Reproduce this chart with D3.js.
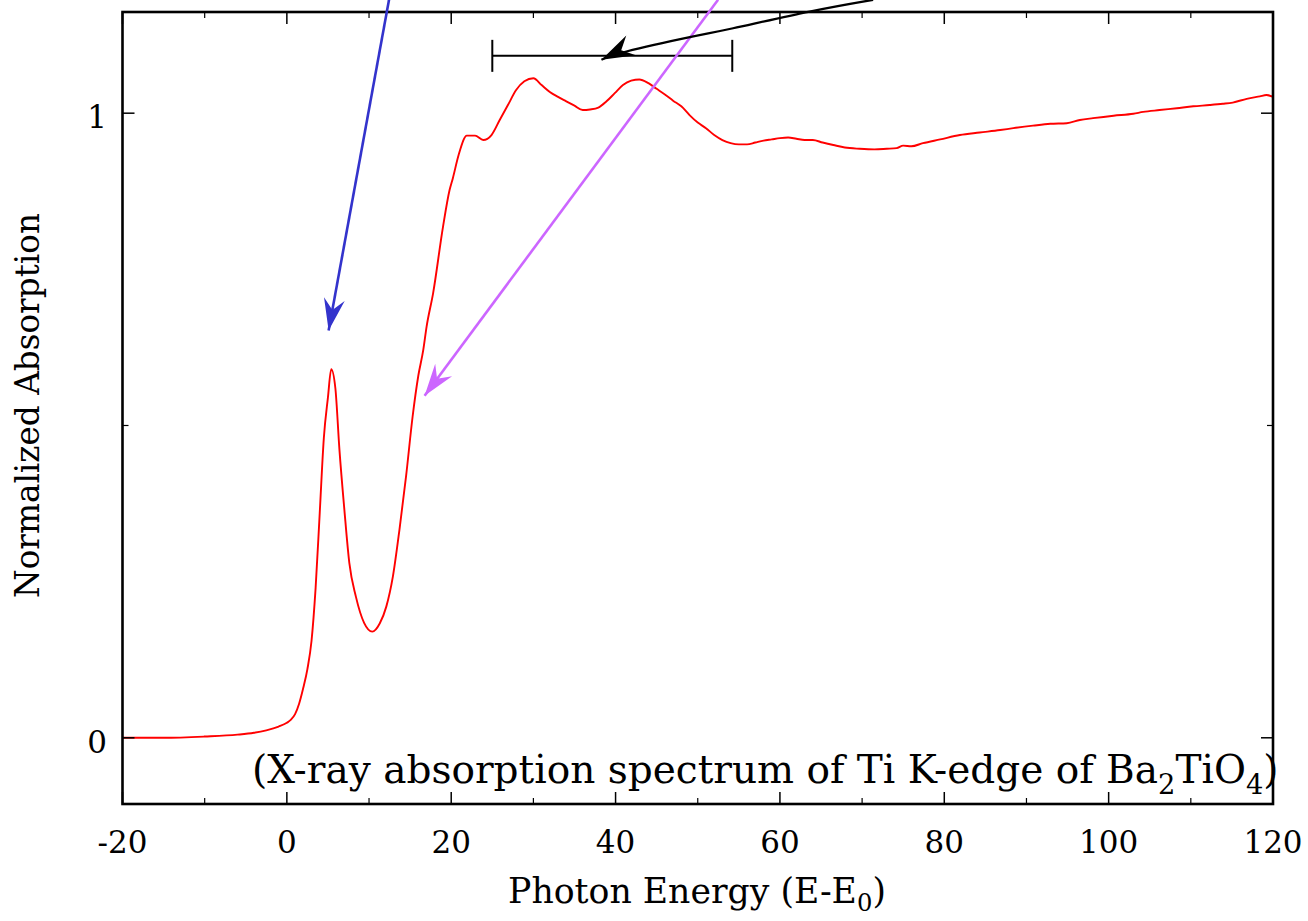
<!DOCTYPE html>
<html>
<head>
<meta charset="utf-8">
<script src="https://cdn.jsdelivr.net/npm/d3@7"></script>
<style>
html,body{margin:0;padding:0;background:#fff;}
svg{display:block;}
text{font-family:"DejaVu Serif",serif;fill:#000;}
</style>
</head>
<body>
<svg id="chart" width="1308" height="921"></svg>
<script>
// ---- data ----
const energy = [-20,-15,-10,-6,-4,-2.5,-1,0,0.5,1,1.5,2,2.5,3,3.5,4,4.5,5,5.4,5.9,6.4,7,7.6,8.4,9.4,10.4,11.3,12.1,12.9,13.7,14.5,15.3,16,16.6,17,17.8,19,19.8,20.2,20.9,21.9,22.9,23.9,24.9,25.9,26.9,27.9,28.9,30,31,32,33,34,35,36,36.9,37.9,38.9,39.9,40.9,41.9,42.9,44,45,46,47,48,49,50,51,52,53,54,55,56,57,58,59,60,61,62,63,64,65.2,66.5,67.9,69.7,71.5,73,74.2,75,76,77.4,79.5,81.9,84.3,86.8,88.4,90.8,92.9,94.9,96.5,98.1,100.6,103,104.2,106.2,108.3,110.3,112.3,113.9,115.1,116.8,118.4,119.2,120];
const absorption = [0.000,0.000,0.002,0.005,0.008,0.012,0.018,0.024,0.029,0.038,0.055,0.080,0.110,0.155,0.240,0.360,0.480,0.545,0.590,0.560,0.461,0.365,0.280,0.226,0.184,0.170,0.183,0.210,0.258,0.333,0.418,0.514,0.580,0.621,0.658,0.712,0.818,0.877,0.896,0.933,0.964,0.964,0.957,0.965,0.989,1.013,1.037,1.051,1.056,1.045,1.034,1.026,1.019,1.012,1.005,1.006,1.009,1.019,1.032,1.045,1.052,1.054,1.048,1.039,1.030,1.020,1.011,0.997,0.985,0.976,0.965,0.957,0.952,0.950,0.950,0.953,0.956,0.958,0.960,0.961,0.959,0.957,0.957,0.953,0.949,0.945,0.943,0.942,0.943,0.944,0.948,0.947,0.952,0.958,0.965,0.969,0.973,0.976,0.980,0.983,0.984,0.989,0.992,0.996,0.999,1.002,1.005,1.008,1.011,1.013,1.015,1.017,1.023,1.027,1.029,1.026];

const xMajorTicks = [-20,0,20,40,60,80,100,120];
const xMinorTicks = [-10,10,30,50,70,90,110];
const yMajorTicks = [0,1];
const yMinorTicks = [0.5];
const xLabels = ["-20","0","20","40","60","80","100","120"];
const yLabels = ["0","1"];

// annotation arrows (data coordinates)
const blueArrow = [[12.43,1.1815],[5.08,0.652]];
const purpleArrow = [[52.47,1.1815],[16.76,0.5477]];
const blackArrow = [[71.34,1.1815],[63.61,1.1627],[54.3,1.136],[49.03,1.1217],[41.32,1.0987],[38.28,1.0854]];
const rangeBar = {x0:25.0, x1:54.2, y:1.0918};

// ---- layout ----
const svg = d3.select("#chart");
const pLeft = 122.5, pRight = 1273, pTop = 12, pBottom = 804;
const x = d3.scaleLinear().domain([-20,120]).range([pLeft,pRight]);
const y = d3.scaleLinear().domain([-0.106,1.162]).range([pBottom,pTop]);

// markers
const defs = svg.append("defs");
function marker(id, color, len, half, notch){
  defs.append("marker").attr("id",id)
    .attr("markerUnits","userSpaceOnUse")
    .attr("viewBox","-36 -14 38 28")
    .attr("markerWidth",38).attr("markerHeight",28)
    .attr("refX",0).attr("refY",0)
    .attr("orient","auto")
    .append("path")
    .attr("d",`M0,0 L${-len},${-half} L${-notch},0 L${-len},${half} Z`)
    .attr("fill",color).attr("stroke","none");
}
marker("mBlue","#3333cc",32,10.5,21);
marker("mPurple","#cc66ff",32,10.5,21);
marker("mBlack","#000",33,11,22);

// data line
const line = d3.line().x(d=>x(d[0])).y(d=>y(d[1])).curve(d3.curveMonotoneX);
const pts = energy.map((e,i)=>[e,absorption[i]]);
svg.append("path").attr("d",line(pts))
  .attr("fill","none").attr("stroke","#ff0000").attr("stroke-width",1.9)
  .attr("stroke-linejoin","round");

// ticks (inward, mirrored)
const g = svg.append("g").attr("stroke","#000");
xMajorTicks.forEach(t=>{
  g.append("line").attr("x1",x(t)).attr("x2",x(t)).attr("y1",pBottom).attr("y2",pBottom-12).attr("stroke-width",1.5);
  g.append("line").attr("x1",x(t)).attr("x2",x(t)).attr("y1",pTop).attr("y2",pTop+12).attr("stroke-width",1.5);
});
xMinorTicks.forEach(t=>{
  g.append("line").attr("x1",x(t)).attr("x2",x(t)).attr("y1",pBottom).attr("y2",pBottom-6).attr("stroke-width",1.2);
  g.append("line").attr("x1",x(t)).attr("x2",x(t)).attr("y1",pTop).attr("y2",pTop+6).attr("stroke-width",1.2);
});
yMajorTicks.forEach(t=>{
  g.append("line").attr("x1",pLeft).attr("x2",pLeft+12).attr("y1",y(t)).attr("y2",y(t)).attr("stroke-width",1.5);
  g.append("line").attr("x1",pRight).attr("x2",pRight-12).attr("y1",y(t)).attr("y2",y(t)).attr("stroke-width",1.5);
});
yMinorTicks.forEach(t=>{
  g.append("line").attr("x1",pLeft).attr("x2",pLeft+6).attr("y1",y(t)).attr("y2",y(t)).attr("stroke-width",1.2);
  g.append("line").attr("x1",pRight).attr("x2",pRight-6).attr("y1",y(t)).attr("y2",y(t)).attr("stroke-width",1.2);
});

// frame
svg.append("rect").attr("x",pLeft).attr("y",pTop).attr("width",pRight-pLeft).attr("height",pBottom-pTop)
  .attr("fill","none").attr("stroke","#000").attr("stroke-width",2.6);

// tick labels
xMajorTicks.forEach((t,i)=>{
  svg.append("text").attr("x",x(t)).attr("y",853).attr("text-anchor","middle")
    .attr("font-size",31).text(xLabels[i]);
});
yMajorTicks.forEach((t,i)=>{
  svg.append("text").attr("x",107).attr("y",y(t)+15).attr("text-anchor","end")
    .attr("font-size",31).text(yLabels[i]);
});

function fitWidth(sel, target){
  const w = sel.node().getComputedTextLength();
  const fs = parseFloat(sel.attr("font-size"));
  const nf = fs*target/w;
  sel.attr("font-size",nf);
  sel.selectAll("tspan.sub").attr("font-size",nf*0.7);
  return nf;
}

// x axis title
const xt = svg.append("text").attr("x",(508+886)/2).attr("y",903).attr("text-anchor","middle").attr("font-size",30);
xt.append("tspan").text("Photon Energy (E-E");
xt.append("tspan").attr("class","sub").attr("font-size",21).attr("dy",8).text("0");
xt.append("tspan").attr("dy",-8).text(")");
fitWidth(xt, 378);

// y axis title
const yt = svg.append("text").attr("transform","translate(39,405.5) rotate(-90)")
  .attr("text-anchor","middle").attr("font-size",30).text("Normalized Absorption");
fitWidth(yt, 385);

// annotation text
const at = svg.append("text").attr("x",252).attr("y",783).attr("font-size",32);
at.append("tspan").text("(X-ray absorption spectrum of Ti K-edge of Ba");
at.append("tspan").attr("class","sub").attr("font-size",22).attr("dy",11).text("2");
at.append("tspan").attr("dy",-11).text("TiO");
at.append("tspan").attr("class","sub").attr("font-size",22).attr("dy",11).text("4");
at.append("tspan").attr("dy",-11).text(")");
fitWidth(at, 1026);

// range bar
const rb = svg.append("g").attr("stroke","#000").attr("stroke-width",2);
rb.append("line").attr("x1",x(rangeBar.x0)).attr("x2",x(rangeBar.x1)).attr("y1",y(rangeBar.y)).attr("y2",y(rangeBar.y));
[rangeBar.x0, rangeBar.x1].forEach(v=>{
  rb.append("line").attr("x1",x(v)).attr("x2",x(v)).attr("y1",y(rangeBar.y)-16).attr("y2",y(rangeBar.y)+16);
});

// arrows
const aline = d3.line().x(d=>x(d[0])).y(d=>y(d[1]));
svg.append("path").attr("d",aline(blueArrow)).attr("fill","none").attr("stroke","#3333cc").attr("stroke-width",2.6).attr("marker-end","url(#mBlue)");
svg.append("path").attr("d",aline(purpleArrow)).attr("fill","none").attr("stroke","#cc66ff").attr("stroke-width",2.6).attr("marker-end","url(#mPurple)");
svg.append("path").attr("d",aline.curve(d3.curveNatural)(blackArrow)).attr("fill","none").attr("stroke","#000").attr("stroke-width",2.2).attr("marker-end","url(#mBlack)");
</script>
</body>
</html>
